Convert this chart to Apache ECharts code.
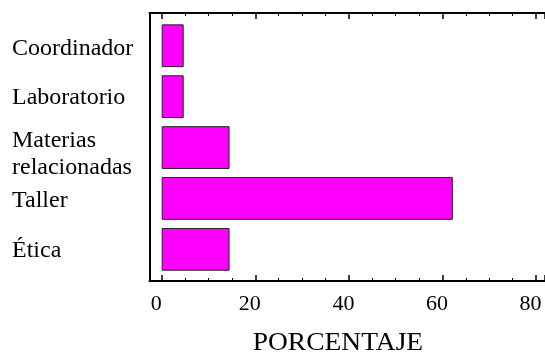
<!DOCTYPE html>
<html><head><meta charset="utf-8">
<script src="https://cdn.jsdelivr.net/npm/echarts@6/dist/echarts.min.js"></script>
<style>html,body{margin:0;padding:0;background:#fff}#c{width:545px;height:353px}</style>
</head><body><div id="c"></div>
<script>
var categories = ['Coordinador', 'Laboratorio', 'Materias\nrelacionadas', 'Taller', 'Ética'];
var values = [4.7, 4.7, 14.5, 62.2, 14.5];
var tickValues = [0, 20, 40, 60, 80];
var axisTitle = 'PORCENTAJE';

var FONT = 'Liberation Serif';
var XMAX = 81.9;
var rich = {
  l0: {lineHeight: 30.6, verticalAlign: 'bottom'},
  l1: {lineHeight: 26.6, verticalAlign: 'bottom'},
  l2a: {lineHeight: 41, verticalAlign: 'middle'},
  l2b: {lineHeight: 14.6, verticalAlign: 'middle'},
  l3: {lineHeight: 29.2, verticalAlign: 'bottom'},
  l4: {lineHeight: 26.4, verticalAlign: 'bottom'}
};
Object.keys(rich).forEach(function (k) {
  rich[k].fontFamily = FONT; rich[k].fontSize = 24; rich[k].color = '#000'; rich[k].align = 'left';
});
function catLabel(v, i) {
  var lines = v.split('\n');
  if (lines.length > 1) return '{l' + i + 'a|' + lines[0] + '}\n{l' + i + 'b|' + lines[1] + '}';
  return '{l' + i + '|' + v + '}';
}
var chart = echarts.init(document.getElementById('c'), null, {renderer: 'canvas'});
var tickAxisBase = {
  type: 'value', min: 0, max: XMAX, interval: 20,
  axisLine: {show: false},
  axisTick: {show: true, inside: true, length: 6, lineStyle: {color: '#000', width: 1.5}},
  minorTick: {show: true, splitNumber: 4, length: 3, lineStyle: {color: '#000', width: 1}},
  splitLine: {show: false},
  minorSplitLine: {show: false}
};
chart.setOption({
  animation: false,
  backgroundColor: '#fff',
  graphic: [{
    type: 'text', x: 252.7, y: 343, scaleX: 1.1,
    style: {text: axisTitle, x: 0, y: 0, fill: '#000', font: '25px "Liberation Serif"', textAlign: 'left', textVerticalAlign: 'middle'}
  }],
  grid: [
    {left: 149.5, right: 0, top: 13, bottom: 72, outerBoundsMode: 'none', containLabel: false},
    {left: 161.7, right: 0, top: 13, bottom: 72, outerBoundsMode: 'none', containLabel: false},
    {left: 161.7, right: 0, top: 20.3, bottom: 78.2, outerBoundsMode: 'none', containLabel: false}
  ],
  xAxis: [
    {gridIndex: 0, type: 'value', min: 0, max: 1, position: 'bottom', axisLine: {show: true, onZero: false, lineStyle: {color: '#000', width: 2}}, axisTick: {show: false}, axisLabel: {show: false}, splitLine: {show: false}},
    {gridIndex: 0, type: 'value', min: 0, max: 1, position: 'top', axisLine: {show: true, onZero: false, lineStyle: {color: '#000', width: 2}}, axisTick: {show: false}, axisLabel: {show: false}, splitLine: {show: false}},
    Object.assign({}, tickAxisBase, {gridIndex: 1, position: 'bottom',
      axisLabel: {show: true, margin: 12, showMaxLabel: false, padding: [0, 11, 0, 0], fontFamily: FONT, fontSize: 22, color: '#000',
        formatter: function (v) { return tickValues.indexOf(v) >= 0 ? String(v) : ''; }}}),
    Object.assign({}, tickAxisBase, {gridIndex: 1, position: 'top', axisLabel: {show: false}}),
    {gridIndex: 2, type: 'value', min: 0, max: XMAX, show: false}
  ],
  yAxis: [
    {gridIndex: 0, type: 'value', min: 0, max: 1, position: 'left', axisLine: {show: true, onZero: false, lineStyle: {color: '#000', width: 2}}, axisTick: {show: false}, axisLabel: {show: false}, splitLine: {show: false}},
    {gridIndex: 1, type: 'value', min: 0, max: 1, show: false},
    {gridIndex: 2, type: 'category', data: categories, inverse: true,
      axisLine: {show: false}, axisTick: {show: false}, splitLine: {show: false},
      axisLabel: {show: true, align: 'left', margin: 149.7, fontFamily: FONT, fontSize: 24, color: '#000',
        formatter: catLabel, rich: rich}}
  ],
  series: [{
    type: 'bar', xAxisIndex: 4, yAxisIndex: 2, data: values,
    barCategoryGap: '16%',
    itemStyle: {color: '#FF00FF', borderColor: '#222', borderWidth: 1}
  }]
});
</script></body></html>
